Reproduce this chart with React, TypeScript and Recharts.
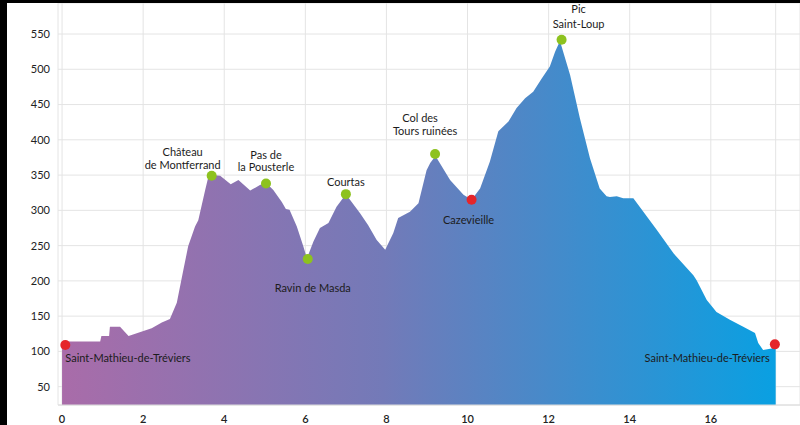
import { ComposedChart, Area, Scatter, XAxis, YAxis, CartesianGrid } from 'recharts';

// elevation profile, km / metres
const distanceKm = [
  0, 0.94, 0.97, 1.16, 1.18, 1.43, 1.64, 2.21, 2.46, 2.66, 2.83, 2.99, 3.11, 3.28, 3.36,
  3.53, 3.61, 3.69, 3.9, 4.16, 4.35, 4.64, 4.88, 5.03, 5.21, 5.42, 5.52, 5.61, 5.79, 5.95,
  6.04, 6.2, 6.36, 6.57, 6.77, 7.0, 7.35, 7.55, 7.76, 7.97, 8.17, 8.29, 8.58, 8.79, 8.99,
  9.08, 9.21, 9.57, 9.9, 10.1, 10.31, 10.55, 10.76, 11.01, 11.21, 11.42, 11.62, 11.83, 12.03,
  12.16, 12.28, 12.53, 12.77, 13.02, 13.26, 13.43, 13.51, 13.68, 13.84, 14.09, 14.67, 15.08,
  15.57, 15.65, 15.9, 16.14, 16.47, 16.8, 17.09, 17.17, 17.29, 17.5, 17.6,
];
const elevationM = [
  114, 114, 122, 122, 135, 135, 122, 133, 141, 146, 169, 215, 249, 277, 286,
  329, 348, 350, 349, 337, 343, 328, 336, 339, 329, 312, 302, 301, 277, 249,
  232, 256, 275, 282, 305, 323, 296, 279, 258, 244, 268, 289, 298, 310, 357,
  367, 377, 343, 322, 315, 331, 369, 412, 426, 445, 459, 468, 487, 504,
  525, 540, 492, 431, 374, 331, 320, 319, 320, 317, 317, 272, 239,
  208, 201, 173, 156, 145, 135, 126, 112, 102, 104, 108,
];

const waypointNames = [
  'Saint-Mathieu-de-Tréviers',
  'Château\nde Montferrand',
  'Pas de\nla Pousterle',
  'Ravin de Masda',
  'Courtas',
  'Col des\nTours ruinées',
  'Cazevieille',
  'Pic\nSaint-Loup',
  'Saint-Mathieu-de-Tréviers',
];
const waypointKm = [0.08, 3.69, 5.03, 6.06, 7.0, 9.2, 10.1, 12.32, 17.58];
const waypointElev = [109, 349, 338, 231, 323, 380, 315, 542, 110];
const waypointType = ['village', 'summit', 'summit', 'summit', 'summit', 'summit', 'village', 'summit', 'village'];

const xTicks = [0, 2, 4, 6, 8, 10, 12, 14, 16];
const yTicks = [50, 100, 150, 200, 250, 300, 350, 400, 450, 500, 550];

// label placement relative to the dot (px)
const labelLayout = [
  { anchor: 'start', dx: [0], dy: [12] },
  { anchor: 'middle', dx: [-29, -29], dy: [-24, -11] },
  { anchor: 'middle', dx: [0, 0], dy: [-29, -17] },
  { anchor: 'middle', dx: [5], dy: [28] },
  { anchor: 'middle', dx: [0], dy: [-13] },
  { anchor: 'middle', dx: [-15, -10], dy: [-36, -23] },
  { anchor: 'middle', dx: [-3], dy: [20] },
  { anchor: 'middle', dx: [17, 17], dy: [-31, -16] },
  { anchor: 'end', dx: [-5], dy: [13] },
];

const dotColors: Record<string, string> = { village: '#e5252a', summit: '#8dc21f' };

const routeEnd = distanceKm[distanceKm.length - 1];
const profile = distanceKm.map((km, i) => ({ km, elev: elevationM[i] }));
const waypoints = waypointNames.map((name, i) => ({
  km: waypointKm[i],
  elev: waypointElev[i],
  name,
  type: waypointType[i],
  idx: i,
}));

const FONT = 'Lato, "Open Sans", sans-serif';

const WaypointMark = (props: any) => {
  const { cx, cy, payload } = props;
  if (cx == null || cy == null) return null;
  const layout = labelLayout[payload.idx];
  const lines = String(payload.name).split('\n');
  return (
    <g>
      <circle cx={cx} cy={cy} r={5} fill={dotColors[payload.type]} />
      {lines.map((line, j) => (
        <text
          key={j}
          x={cx + layout.dx[j]}
          y={cy + layout.dy[j]}
          textAnchor={layout.anchor as any}
          dominantBaseline="central"
          fontFamily={FONT}
          fontSize={11}
          fill="#1c1c1c"
        >
          {line}
        </text>
      ))}
    </g>
  );
};

export default function App() {
  return (
    <div style={{ position: 'absolute', left: 0, top: 0, width: 800, height: 425, background: '#fff' }}>
      <ComposedChart
        width={800}
        height={425}
        data={profile}
        margin={{ top: 3, right: 0, bottom: 0, left: 0 }}
      >
        <defs>
          <linearGradient id="profileFill" x1="0" y1="0" x2="1" y2="0">
            <stop offset="0%" stopColor="#a96ca9" />
            <stop offset="45%" stopColor="#737ab8" />
            <stop offset="100%" stopColor="#09a0e2" />
          </linearGradient>
        </defs>
        <CartesianGrid stroke="#e4e4e4" strokeWidth={1} />
        <XAxis
          type="number"
          dataKey="km"
          domain={[-0.1, 18.2]}
          ticks={[...xTicks, routeEnd]}
          tickFormatter={(v: number) => (xTicks.includes(v) ? String(v) : '')}
          allowDataOverflow
          height={20}
          tickLine={false}
          tickMargin={4}
          axisLine={{ stroke: '#dcdcdc' }}
          tick={{ fontSize: 11, fill: '#222', fontWeight: 600, fontFamily: FONT }}
        />
        <YAxis
          type="number"
          domain={[24, 594]}
          ticks={yTicks}
          allowDataOverflow
          width={58}
          tickLine={false}
          axisLine={false}
          tick={{ fontSize: 11, fill: '#222', fontFamily: FONT }}
        />
        <Area
          type="linear"
          dataKey="elev"
          stroke="none"
          fill="url(#profileFill)"
          fillOpacity={1}
          baseValue={24}
          isAnimationActive={false}
        />
        <Scatter data={waypoints} dataKey="elev" shape={WaypointMark} isAnimationActive={false} />
      </ComposedChart>
      <div style={{ position: 'absolute', left: 0, top: 0, width: 7, height: 425, background: '#000' }} />
      <div style={{ position: 'absolute', left: 0, top: 0, width: 800, height: 3, background: '#000' }} />
    </div>
  );
}
